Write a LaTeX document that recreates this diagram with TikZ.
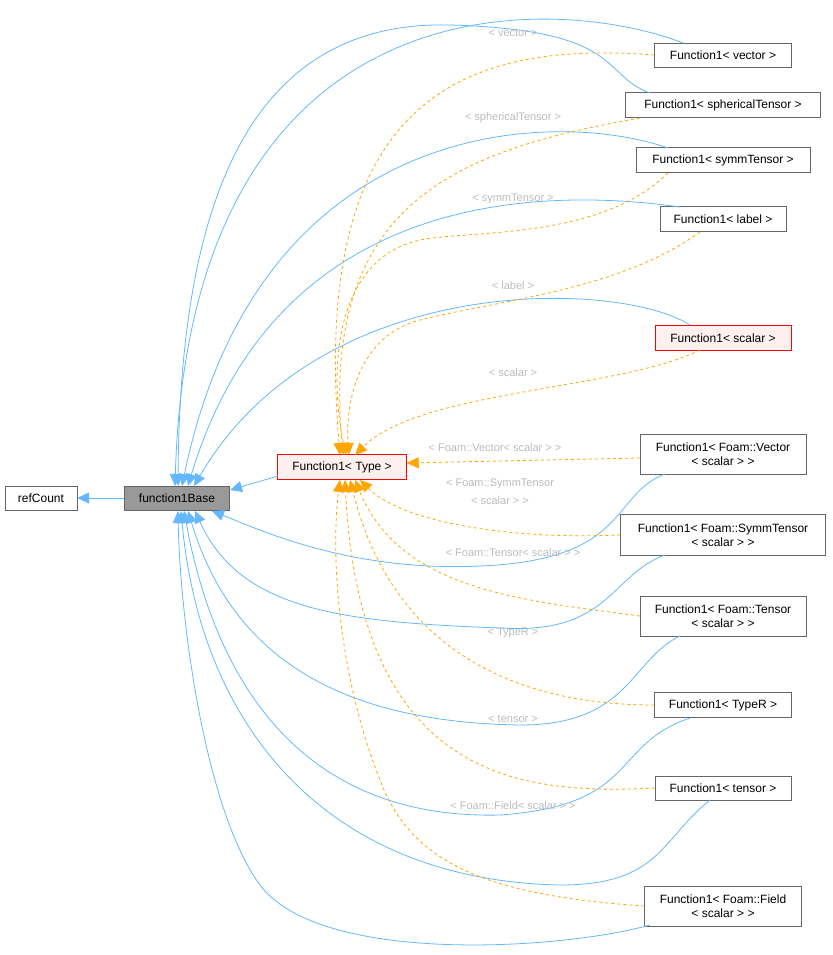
\documentclass[tikz,border=0pt]{standalone}
\usepackage{fontspec}
\setmainfont{Liberation Sans}
\usetikzlibrary{arrows.meta}
\definecolor{eb}{HTML}{63B8FF}
\definecolor{eo}{HTML}{FFA500}
\definecolor{lg}{HTML}{BBBBBB}
\begin{document}
\begin{tikzpicture}[x=1pt,y=-1pt,
 box/.style={draw=black!60,fill=white,font=\fontsize{12}{14}\selectfont,inner sep=2pt,align=center},
 red/.style={box,draw=red,fill=red!6},
 inh/.style={eb,line width=0.8pt,-{Triangle[open,fill=eb,length=12pt,width=11pt]}},
 tpl/.style={eo,dashed,line width=0.8pt,-{Triangle[fill=eo,length=12pt,width=11pt]}},
 lab/.style={text=lg,font=\fontsize{11}{13}\selectfont,align=center}]
\useasboundingbox (0,0) rectangle (832,955);
\node[box,minimum width=72pt,minimum height=24pt] (rc) at (41,498) {refCount};
\node[box,fill=black!40,minimum width=105pt,minimum height=24pt] (fb) at (177,498) {function1Base};
\node[red,minimum width=129pt,minimum height=25pt] (ty) at (342,467) {Function1< Type >};
\node[box,minimum width=137pt,minimum height=24pt] (v) at (723,55) {Function1< vector >};
\node[box,minimum width=195pt,minimum height=25pt] (sp) at (723,105) {Function1< sphericalTensor >};
\node[box,minimum width=174pt,minimum height=25pt] (sy) at (723,160) {Function1< symmTensor >};
\node[box,minimum width=126pt,minimum height=25pt] (la) at (723,219) {Function1< label >};
\node[red,minimum width=136pt,minimum height=25pt] (sc) at (723,338) {Function1< scalar >};
\node[box,minimum width=166pt,minimum height=40pt] (fv) at (723,454) {Function1< Foam::Vector\\< scalar > >};
\node[box,minimum width=205pt,minimum height=41pt] (fs) at (723,535) {Function1< Foam::SymmTensor\\< scalar > >};
\node[box,minimum width=166pt,minimum height=40pt] (ft) at (723,616) {Function1< Foam::Tensor\\< scalar > >};
\node[box,minimum width=137pt,minimum height=25pt] (tr) at (723,705) {Function1< TypeR >};
\node[box,minimum width=136pt,minimum height=24pt] (te) at (723,788) {Function1< tensor >};
\node[box,minimum width=157pt,minimum height=40pt] (ff) at (723,906) {Function1< Foam::Field\\< scalar > >};
\coordinate (b1) at (175,486);\coordinate (b2) at (178,486);\coordinate (b3) at (182,486);
\coordinate (b4) at (188,486);\coordinate (b5) at (194,486);
\coordinate (c1) at (212,511);\coordinate (c2) at (195,511);\coordinate (c3) at (188,511);
\coordinate (c4) at (184,511);\coordinate (c5) at (181,511);\coordinate (c6) at (178,511);
\coordinate (t0) at (278,476);\coordinate (f0) at (230,490);
\draw[inh] (fb) -- (rc);
\draw[inh] (t0) -- (f0);
\draw[inh] (683,43) .. controls (560,-5) and (190,-30) .. (b1);
\draw[inh] (650,93) .. controls (600,75) and (625,30) .. (450,25) .. controls (250,20) and (180,200) .. (b2);
\draw[inh] (668,148) .. controls (560,110) and (260,110) .. (b3);
\draw[inh] (680,207) .. controls (560,190) and (280,180) .. (b4);
\draw[inh] (690,325) .. controls (620,280) and (320,270) .. (b5);
\draw[inh] (665,474) .. controls (610,495) and (630,560) .. (480,566) .. controls (350,572) and (260,530) .. (c1);
\draw[inh] (665,555) .. controls (610,575) and (610,635) .. (500,628) .. controls (340,622) and (240,610) .. (c2);
\draw[inh] (680,636) .. controls (630,660) and (630,725) .. (520,725) .. controls (330,722) and (230,650) .. (c3);
\draw[inh] (690,718) .. controls (610,745) and (640,805) .. (500,815) .. controls (300,820) and (215,680) .. (c4);
\draw[inh] (710,800) .. controls (660,840) and (660,885) .. (560,885) .. controls (320,880) and (200,720) .. (c5);
\draw[inh] (650,925) .. controls (560,950) and (320,965) .. (260,885) .. controls (205,810) and (180,620) .. (c6);
\draw[tpl] (v.west) .. controls (460,40) and (310,100) .. (340,455);
\node[lab] at (513,33) {< vector >};
\draw[tpl] (640,118) .. controls (460,150) and (320,200) .. (343,455);
\node[lab] at (513,118) {< sphericalTensor >};
\draw[tpl] (668,173) .. controls (600,240) and (470,230) .. (420,240) .. controls (330,260) and (330,380) .. (346,455);
\node[lab] at (513,199) {< symmTensor >};
\draw[tpl] (700,232) .. controls (620,290) and (500,300) .. (420,320) .. controls (360,335) and (345,400) .. (349,455);
\node[lab] at (513,286) {< label >};
\draw[tpl] (700,350) .. controls (620,390) and (420,390) .. (355,455);
\node[lab] at (513,373) {< scalar >};
\draw[tpl] (fv.west |- 0,458) -- (ty.east |- 0,463);
\node[lab] at (495,448) {< Foam::Vector< scalar > >};
\draw[tpl] (fs.west) .. controls (500,540) and (400,520) .. (360,480);
\node[lab] at (500,492) {< Foam::SymmTensor\\[5pt]< scalar > >};
\draw[tpl] (ft.west) .. controls (520,600) and (400,590) .. (355,480);
\node[lab] at (513,553) {< Foam::Tensor< scalar > >};
\draw[tpl] (tr.west) .. controls (560,705) and (400,680) .. (350,480);
\node[lab] at (513,633) {< TypeR >};
\draw[tpl] (te.west) .. controls (520,795) and (360,780) .. (345,480);
\node[lab] at (513,719) {< tensor >};
\draw[tpl] (ff.west) .. controls (480,895) and (410,860) .. (380,780) .. controls (340,680) and (330,560) .. (340,480);
\node[lab] at (513,806) {< Foam::Field< scalar > >};
\end{tikzpicture}
\end{document}
